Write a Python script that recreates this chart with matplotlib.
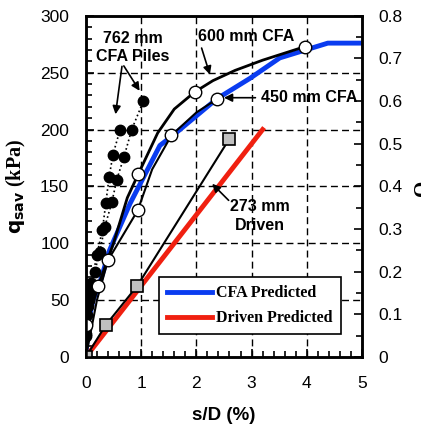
#!/usr/bin/env python3
"""
Load-settlement curves: CFA and driven piles vs predicted
"""

import matplotlib
matplotlib.use('Agg')
import matplotlib.pyplot as plt
from matplotlib.ticker import MultipleLocator

# 762 mm CFA piles (two tests, dotted)
cfa762a_x = [0, 0.01, 0.02, 0.05, 0.10, 0.20, 0.30, 0.36, 0.42, 0.49, 0.62]
cfa762a_y = [0, 18, 37, 50, 65, 90, 112, 135, 158, 178, 200]
cfa762b_x = [0, 0.01, 0.04, 0.08, 0.16, 0.25, 0.34, 0.47, 0.56, 0.69, 0.83, 1.04]
cfa762b_y = [0, 20, 45, 58, 75, 92, 114, 136, 156, 176, 200, 225]

# 600 mm CFA (line, markers at test points)
cfa600_line_x = [0, 0.01, 0.22, 0.5, 0.75, 0.95, 1.3, 1.6, 1.97, 2.3, 2.7, 3.2, 3.97]
cfa600_line_y = [0, 28, 62, 100, 140, 161, 197, 218, 233, 243, 252, 261, 273]
cfa600_x = [0.01, 0.22, 0.95, 1.97, 3.97]
cfa600_y = [28, 62, 161, 233, 273]

# 450 mm CFA
cfa450_line_x = [0, 0.2, 0.40, 0.94, 1.2, 1.55, 2.0, 2.38]
cfa450_line_y = [0, 50, 85, 129, 165, 195, 215, 227]
cfa450_x = [0.40, 0.94, 1.55, 2.38]
cfa450_y = [85, 129, 195, 227]

# 273 mm driven
drv_x = [0, 0.36, 0.93, 2.6]
drv_y = [0, 28, 62.5, 192]

# predicted curves
cfa_pred_x = [0, 0.04, 0.13, 0.27, 0.43, 0.8, 1.34, 1.58, 2.37, 2.97, 3.51, 4.38, 5.0]
cfa_pred_y = [0, 30, 50, 68, 94, 135, 186, 195, 227, 245, 263, 276, 276]
drv_pred_x = [0, 3.2]
drv_pred_y = [0, 200]

fig = plt.figure(figsize=(4.21, 4.28), dpi=100)
ax = fig.add_axes([0.204, 0.166, 0.656, 0.797])

for xv in [1, 2, 3, 4]:
    ax.axvline(xv, color='black', lw=1, ls=(0, (5, 3)), zorder=1)
for yv in [50, 100, 150, 200, 250]:
    ax.axhline(yv, color='black', lw=1, ls=(0, (5, 3)), zorder=1)

ax.plot(cfa762a_x, cfa762a_y, color='black', ls=':', lw=1.2, marker='o', ms=7.5, zorder=3)
ax.plot(cfa762b_x, cfa762b_y, color='black', ls=':', lw=1.2, marker='o', ms=7.5, zorder=3)

blue, = ax.plot(cfa_pred_x, cfa_pred_y, color='#0a3cf0', lw=3.5, zorder=2, label='CFA Predicted')
red, = ax.plot(drv_pred_x, drv_pred_y, color='#f02010', lw=3.5, zorder=2, label='Driven Predicted')

ax.plot(cfa600_line_x, cfa600_line_y, color='black', lw=2, zorder=4)
ax.plot(cfa600_x, cfa600_y, 'o', mfc='white', mec='black', ms=9, zorder=5)
ax.plot(cfa450_line_x, cfa450_line_y, color='black', lw=1.5, zorder=4)
ax.plot(cfa450_x, cfa450_y, 'o', mfc='white', mec='black', ms=9, zorder=5)
ax.plot(drv_x, drv_y, color='black', lw=1.5, zorder=4)
ax.plot(drv_x, drv_y, 's', mfc='#c0c0c0', mec='black', ms=8, mew=1.2, zorder=5)

# annotations
akw = dict(arrowstyle='-|>', color='black', lw=1.2, mutation_scale=12)
tkw = dict(fontsize=11.5, fontweight='bold', family='Liberation Sans', ha='center')
ax.text(0.85, 272, '762 mm\nCFA Piles', va='center', linespacing=1.3, **tkw)
ax.annotate('', xy=(0.53, 211), xytext=(0.66, 258), arrowprops=akw)
ax.annotate('', xy=(1.0, 232), xytext=(0.66, 258), arrowprops=akw)
ax.text(2.9, 282, '600 mm CFA', va='center', **tkw)
ax.annotate('', xy=(2.26, 246), xytext=(2.08, 274), arrowprops=akw)
ax.text(4.05, 228, '450 mm CFA', va='center', **tkw)
ax.annotate('', xy=(2.45, 228), xytext=(3.12, 228), arrowprops=akw)
ax.text(3.15, 124, '273 mm\nDriven', va='center', linespacing=1.3, **tkw)
ax.annotate('', xy=(2.25, 154), xytext=(2.62, 136), arrowprops=akw)

ax.set_xlim(0, 5)
ax.set_ylim(0, 300)
ax.xaxis.set_major_locator(MultipleLocator(1))
ax.xaxis.set_minor_locator(MultipleLocator(0.2))
ax.yaxis.set_major_locator(MultipleLocator(50))
ax.yaxis.set_minor_locator(MultipleLocator(10))
ax.tick_params(which='both', direction='in', labelsize=12.5, width=1.2)
ax.tick_params(which='major', length=6)
ax.tick_params(which='minor', length=4)
ax.tick_params(axis='x', pad=14)
ax.tick_params(axis='y', pad=12)
for lab in ax.get_xticklabels() + ax.get_yticklabels():
    lab.set_family('Liberation Sans')
for sp in ax.spines.values():
    sp.set_linewidth(1.8)

ax.set_xlabel('s/D (%)', fontsize=13.5, fontweight='bold', family='Liberation Sans', labelpad=11)
ax.set_ylabel(r'$\mathbf{q_{sav}}$ (kPa)', fontsize=14.5, fontweight='bold', family='Liberation Serif', labelpad=9)

ax2 = ax.twinx()
ax2.set_ylim(0, 0.8)
ax2.yaxis.set_major_locator(MultipleLocator(0.1))
ax2.yaxis.set_minor_locator(MultipleLocator(0.05))
ax2.tick_params(which='both', direction='in', labelsize=12.5, width=1.2, pad=12)
ax2.tick_params(which='major', length=6)
ax2.tick_params(which='minor', length=4)
ax2.set_yticks([0, 0.1, 0.2, 0.3, 0.4, 0.5, 0.6, 0.7, 0.8])
ax2.set_yticklabels(['0', '0.1', '0.2', '0.3', '0.4', '0.5', '0.6', '0.7', '0.8'], family='Liberation Sans')
for sp in ax2.spines.values():
    sp.set_linewidth(1.8)
fig.text(1.005, 0.56, 'Q', rotation=90, fontsize=15, fontweight='bold',
         family='Liberation Serif', ha='center', va='center')

leg = ax.legend(handles=[blue, red], loc='lower left', bbox_to_anchor=(0.264, 0.067),
                borderaxespad=0,
                prop={'family': 'Liberation Serif', 'weight': 'bold', 'size': 11.5},
                fancybox=False, edgecolor='black', framealpha=1, handlelength=2.8,
                borderpad=0.5, labelspacing=0.55, handletextpad=0.3)
leg.get_frame().set_linewidth(1.2)

plt.savefig('out.png', dpi=100)
plt.close('all')
